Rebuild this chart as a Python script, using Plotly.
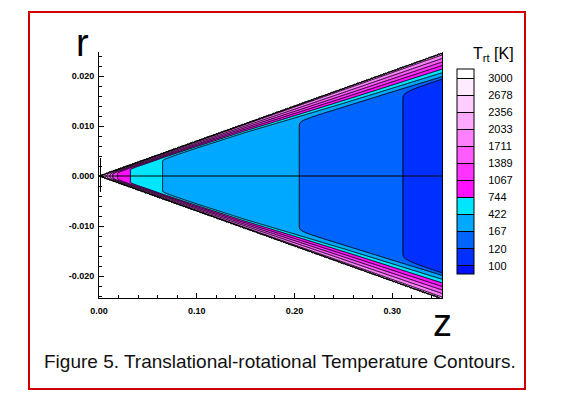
import numpy as np
import plotly.graph_objects as go

# ---------------- data ----------------
# contour levels of T_rt [K] (legend)
levels = [100, 120, 167, 422, 744, 1067, 1389, 1711, 2033, 2356, 2678, 3000]
level_labels = ["100", "120", "167", "422", "744", "1067", "1389", "1711",
                "2033", "2356", "2678", "3000"]
# band colours, lowest band (<100) to highest (>3000)
band_colors = ["#0010FF", "#0030FF", "#0064FF", "#00A8FF", "#00E6FF",
               "#FF11FF", "#FF33FF", "#FF5CFF", "#FF80FF", "#FFA8FF",
               "#FFCCFF", "#FFEBFF", "#FFFFFF"]

# core (axis) temperature: positions z where the core crosses each level
core_z = [0.0, 0.003, 0.007, 0.011, 0.014, 0.019, 0.032, 0.065, 0.205, 0.311, 0.352]
core_T = [2600, 2356, 2033, 1711, 1389, 1067, 744, 422, 167, 120, 108]

# wall boundary-layer thickness along z
bl_z = [0.0, 0.05, 0.10, 0.15, 0.20, 0.25, 0.30, 0.352]
bl_delta = [0.0004, 0.0010, 0.0014, 0.0019, 0.0027, 0.0034, 0.0040, 0.0046]
wall_T = 2200
outside_T = 3500
cone_slope = 0.070            # wall radius / z

# small nose segment
nose_z = 0.0015
nose_r = [-0.0032, 0.0036]

# axes
z_range = [0.0, 0.352]
r_range = [-0.0244, 0.0248]
x_tickvals = [0.0, 0.1, 0.2, 0.3]
x_ticktext = ["0.00", "0.10", "0.20", "0.30"]
y_tickvals = [-0.02, -0.01, 0.0, 0.01, 0.02]
y_ticktext = ["-0.020", "-0.010", "0.000", "0.010", "0.020"]

# ---------------- build the field ----------------
zg = np.linspace(z_range[0], z_range[1], 520)
rg = np.linspace(r_range[0], r_range[1], 400)
Z, R = np.meshgrid(zg, rg)
Tc = np.interp(Z, core_z, core_T)
dl = np.interp(Z, bl_z, bl_delta)
d = cone_slope * Z - np.abs(R)
s = d / dl
w = 0.06
g = w * np.log1p(np.exp(np.clip((1 - s) / w, -50, 50)))
g0 = w * np.log1p(np.exp(1 / w))
T = Tc + (wall_T - Tc) * g / g0
T = np.where(d >= 0, T, outside_T)

# map temperature to level index (levels are not evenly spaced)
lv = np.array(levels, dtype=float)
idx = np.interp(T, lv, np.arange(len(lv)))
idx = np.where(T < lv[0], (T - lv[0]) / (lv[1] - lv[0]), idx)
idx = np.where(T > lv[-1], len(lv) - 1 + (T - lv[-1]) / (lv[-1] - lv[-2]), idx)
idx = np.round(idx, 3)

n = len(levels)
colorscale = [[k / n, c] for k, c in enumerate(band_colors)]

# page pixel -> paper coordinate (plot area spans x 99..443, y 52..298 on the page)
def px(xp):
    return (xp - 99) / 344

def py(yp):
    return (298 - yp) / 246

fig = go.Figure()
fig.add_trace(go.Contour(
    x=zg, y=rg, z=idx,
    contours=dict(start=0, end=n - 1, size=1, coloring="fill"),
    line=dict(color="black", width=1),
    colorscale=colorscale,
    hoverinfo="skip",
    colorbar=dict(
        x=px(457), xanchor="left", y=py(171.8), yanchor="middle",
        thickness=17, thicknessmode="pixels", len=205, lenmode="pixels",
        tickvals=list(range(n)), ticktext=level_labels,
        ticks="outside", ticklen=12, tickcolor="rgba(0,0,0,0)",
        tickfont=dict(family="Liberation Sans", size=11, color="black"),
        outlinecolor="black", outlinewidth=1, xpad=0, ypad=0,
    ),
))

# symmetry axis line
fig.add_trace(go.Scatter(x=z_range, y=[0, 0], mode="lines",
                         line=dict(color="black", width=1), hoverinfo="skip",
                         showlegend=False))
# nose segment
fig.add_trace(go.Scatter(x=[nose_z, nose_z], y=nose_r, mode="lines",
                         line=dict(color="black", width=1), hoverinfo="skip",
                         showlegend=False))
# outflow boundary of the domain
z_end = z_range[1]
fig.add_trace(go.Scatter(x=[z_end, z_end],
                         y=[-cone_slope * z_end, cone_slope * z_end], mode="lines",
                         line=dict(color="black", width=2), hoverinfo="skip",
                         showlegend=False))

axis_common = dict(showline=True, linecolor="black", linewidth=1, ticks="inside",
                   ticklen=5, tickcolor="black", showgrid=False, zeroline=False,
                   tickfont=dict(family="Liberation Sans", size=9, color="black",
                                 weight="bold"),
                   mirror=False)
fig.update_xaxes(range=z_range, tickmode="array", tickvals=x_tickvals,
                 ticktext=x_ticktext, ticklabelstandoff=4,
                 minor=dict(tickmode="linear", tick0=0, dtick=0.02, ticks="inside",
                            ticklen=3, tickcolor="black", showgrid=False),
                 **axis_common)
fig.update_yaxes(range=r_range, tickmode="array", tickvals=y_tickvals,
                 ticktext=y_ticktext, ticklabelstandoff=2,
                 minor=dict(tickmode="linear", tick0=0, dtick=0.002, ticks="inside",
                            ticklen=3, tickcolor="black", showgrid=False),
                 **axis_common)

# the page body has an 8px margin, so the figure is 8px smaller and shifted
fig.update_layout(
    width=553, height=395, autosize=False,
    margin=dict(l=91, r=118, t=44, b=105, autoexpand=False),
    plot_bgcolor="white", paper_bgcolor="white",
    showlegend=False,
    shapes=[dict(type="rect", xref="paper", yref="paper",
                 x0=px(29), x1=px(525), y0=py(389), y1=py(12),
                 line=dict(color="#D00000", width=2))],
    annotations=[
        dict(text="r", xref="paper", yref="paper", x=px(82), y=py(42.5),
             xanchor="center", yanchor="middle",
             showarrow=False, font=dict(family="Liberation Sans", size=38, color="black")),
        dict(text="z", xref="paper", yref="paper", x=px(442), y=py(322.5),
             xanchor="center", yanchor="middle",
             showarrow=False, font=dict(family="Liberation Sans", size=38, color="black")),
        dict(text="T<sub>rt</sub> [K]", xref="paper", yref="paper", x=px(493), y=py(54),
             xanchor="center", yanchor="middle",
             showarrow=False, font=dict(family="Liberation Sans", size=16, color="black")),
        dict(text="Figure 5. Translational-rotational Temperature Contours.",
             xref="paper", yref="paper", x=px(280), y=py(361.5),
             xanchor="center", yanchor="middle",
             showarrow=False, font=dict(family="Liberation Sans", size=19, color="#111")),
    ],
)

fig.write_html("out.html")
